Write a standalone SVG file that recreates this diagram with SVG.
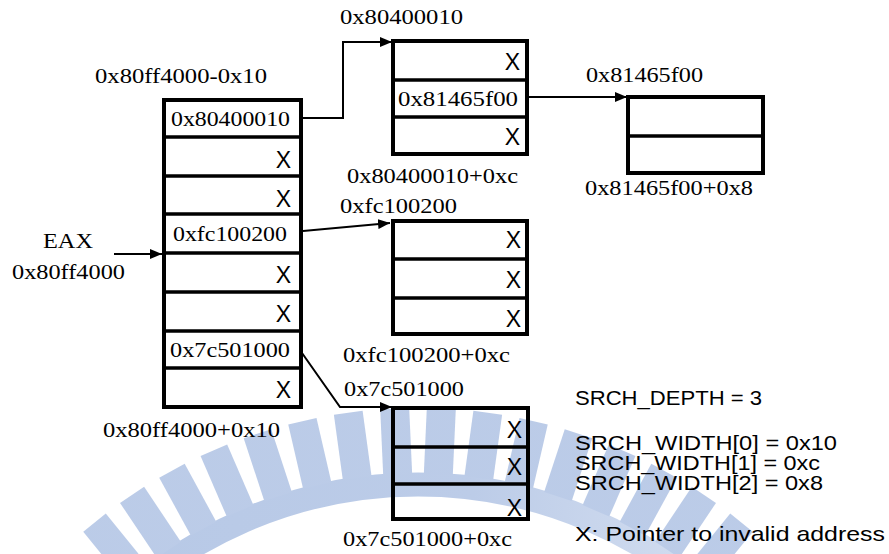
<svg xmlns="http://www.w3.org/2000/svg" width="889" height="554" viewBox="0 0 889 554">
<defs>
<style>
.box{fill:none;stroke:#000;stroke-width:4}
.div{stroke:#000;stroke-width:3.5}
.con{fill:none;stroke:#000;stroke-width:2}
.t{font-family:"Liberation Serif","Times New Roman",serif;font-size:21px;fill:#000}
.x{font-family:"Liberation Sans",Arial,sans-serif;font-size:23px;fill:#000;text-anchor:end}
.s{font-family:"Liberation Sans",Arial,sans-serif;font-size:21px;fill:#000}
.s2{font-family:"Liberation Sans",Arial,sans-serif;font-size:20px;fill:#000}
.wm{stroke:url(#wmg);fill:none}
</style>
<linearGradient id="wmg" gradientUnits="userSpaceOnUse" x1="0" y1="0" x2="860" y2="0">
<stop offset="0" stop-color="#b6c8e6"/>
<stop offset="0.55" stop-color="#bccce8"/>
<stop offset="1" stop-color="#e2e9f5"/>
</linearGradient>
<marker id="ah" markerUnits="userSpaceOnUse" markerWidth="14" markerHeight="10" refX="12" refY="5" orient="auto">
<path d="M0,0 L12,5 L0,10 Z" fill="#000"/>
</marker>
</defs>
<rect width="889" height="554" fill="#fff"/>
<g id="watermark">
<path class="wm" stroke-width="24" d="M108.6 612.6 A437.5 437.5 0 0 1 727.4 612.6"/>
<g class="wm" stroke-width="29">
<line x1="418" y1="474" x2="418" y2="408" transform="rotate(-39 418 922)"/>
<line x1="418" y1="474" x2="418" y2="408" transform="rotate(-33.8 418 922)"/>
<line x1="418" y1="474" x2="418" y2="408" transform="rotate(-28.6 418 922)"/>
<line x1="418" y1="474" x2="418" y2="408" transform="rotate(-23.4 418 922)"/>
<line x1="418" y1="474" x2="418" y2="408" transform="rotate(-18.2 418 922)"/>
<line x1="418" y1="474" x2="418" y2="408" transform="rotate(-13 418 922)"/>
<line x1="418" y1="474" x2="418" y2="408" transform="rotate(-7.8 418 922)"/>
<line x1="418" y1="474" x2="418" y2="408" transform="rotate(-2.6 418 922)"/>
<line x1="418" y1="474" x2="418" y2="408" transform="rotate(2.6 418 922)"/>
<line x1="418" y1="474" x2="418" y2="408" transform="rotate(7.8 418 922)"/>
<line x1="418" y1="474" x2="418" y2="408" transform="rotate(13 418 922)"/>
<line x1="418" y1="474" x2="418" y2="408" transform="rotate(18.2 418 922)"/>
<line x1="418" y1="474" x2="418" y2="408" transform="rotate(23.4 418 922)"/>
<line x1="418" y1="474" x2="418" y2="408" transform="rotate(28.6 418 922)"/>
<line x1="418" y1="474" x2="418" y2="408" transform="rotate(33.8 418 922)"/>
<line x1="418" y1="474" x2="418" y2="408" transform="rotate(39 418 922)"/>
</g>
</g>
<g id="connectors">
<polyline class="con" points="301,118 343,118 343,42 392,42" marker-end="url(#ah)"/>
<line class="con" x1="303" y1="231" x2="390" y2="223" marker-end="url(#ah)"/>
<line class="con" x1="529" y1="97" x2="627" y2="97" marker-end="url(#ah)"/>
<line class="con" x1="114" y1="254" x2="162" y2="254" marker-end="url(#ah)"/>
<polyline class="con" points="302,353 340,407 392,407" marker-end="url(#ah)"/>
</g>
<g id="eax">
<text class="t" x="43" y="248" textLength="50" lengthAdjust="spacingAndGlyphs">EAX</text>
<text class="t" x="12" y="279" textLength="113" lengthAdjust="spacingAndGlyphs">0x80ff4000</text>
</g>
<g id="main-block">
<text class="t" x="95" y="83" textLength="172" lengthAdjust="spacingAndGlyphs">0x80ff4000-0x10</text>
<rect class="box" x="164" y="100" width="137" height="307"/>
<line class="div" x1="164" y1="137" x2="301" y2="137"/>
<line class="div" x1="164" y1="176" x2="301" y2="176"/>
<line class="div" x1="164" y1="214" x2="301" y2="214"/>
<line class="div" x1="164" y1="253" x2="301" y2="253"/>
<line class="div" x1="164" y1="292" x2="301" y2="292"/>
<line class="div" x1="164" y1="331" x2="301" y2="331"/>
<line class="div" x1="164" y1="368" x2="301" y2="368"/>
<text class="t" x="171" y="126" textLength="119" lengthAdjust="spacingAndGlyphs">0x80400010</text>
<text class="x" x="291" y="168">X</text>
<text class="x" x="291" y="207">X</text>
<text class="t" x="173" y="241" textLength="114" lengthAdjust="spacingAndGlyphs">0xfc100200</text>
<text class="x" x="291" y="283">X</text>
<text class="x" x="291" y="322">X</text>
<text class="t" x="170" y="357" textLength="120" lengthAdjust="spacingAndGlyphs">0x7c501000</text>
<text class="x" x="291" y="398">X</text>
<text class="t" x="103" y="437" textLength="177" lengthAdjust="spacingAndGlyphs">0x80ff4000+0x10</text>
</g>
<g id="block-80400010">
<text class="t" x="340" y="24" textLength="123" lengthAdjust="spacingAndGlyphs">0x80400010</text>
<rect class="box" x="393" y="41" width="134" height="113"/>
<line class="div" x1="393" y1="80" x2="527" y2="80"/>
<line class="div" x1="393" y1="117" x2="527" y2="117"/>
<text class="x" x="520" y="70">X</text>
<text class="t" x="398" y="106" textLength="120" lengthAdjust="spacingAndGlyphs">0x81465f00</text>
<text class="x" x="520" y="145">X</text>
<text class="t" x="347" y="183" textLength="171" lengthAdjust="spacingAndGlyphs">0x80400010+0xc</text>
</g>
<g id="block-81465f00">
<text class="t" x="586" y="82" textLength="117" lengthAdjust="spacingAndGlyphs">0x81465f00</text>
<rect class="box" x="628" y="97" width="135" height="76"/>
<line class="div" x1="628" y1="136" x2="763" y2="136"/>
<text class="t" x="585" y="195" textLength="168" lengthAdjust="spacingAndGlyphs">0x81465f00+0x8</text>
</g>
<g id="block-fc100200">
<text class="t" x="340" y="213" textLength="117" lengthAdjust="spacingAndGlyphs">0xfc100200</text>
<rect class="box" x="393" y="221" width="134" height="113"/>
<line class="div" x1="393" y1="259" x2="527" y2="259"/>
<line class="div" x1="393" y1="298" x2="527" y2="298"/>
<text class="x" x="521" y="248">X</text>
<text class="x" x="521" y="288">X</text>
<text class="x" x="521" y="327">X</text>
<text class="t" x="343" y="362" textLength="167" lengthAdjust="spacingAndGlyphs">0xfc100200+0xc</text>
</g>
<g id="block-7c501000">
<text class="t" x="344" y="396" textLength="120" lengthAdjust="spacingAndGlyphs">0x7c501000</text>
<rect class="box" x="393" y="408" width="135" height="111"/>
<line class="div" x1="393" y1="447" x2="528" y2="447"/>
<line class="div" x1="393" y1="484" x2="528" y2="484"/>
<text class="x" x="522" y="438">X</text>
<text class="x" x="522" y="475">X</text>
<text class="x" x="522" y="516">X</text>
<text class="t" x="343" y="546" textLength="169" lengthAdjust="spacingAndGlyphs">0x7c501000+0xc</text>
</g>
<g id="legend">
<text class="s" x="575" y="405" textLength="187" lengthAdjust="spacingAndGlyphs">SRCH_DEPTH = 3</text>
<text class="s2" x="575" y="450" textLength="262" lengthAdjust="spacingAndGlyphs">SRCH_WIDTH[0] = 0x10</text>
<text class="s2" x="575" y="470" textLength="245" lengthAdjust="spacingAndGlyphs">SRCH_WIDTH[1] = 0xc</text>
<text class="s2" x="575" y="490" textLength="248" lengthAdjust="spacingAndGlyphs">SRCH_WIDTH[2] = 0x8</text>
<text class="s" x="575" y="541" textLength="310" lengthAdjust="spacingAndGlyphs">X: Pointer to invalid address</text>
</g>
</svg>
